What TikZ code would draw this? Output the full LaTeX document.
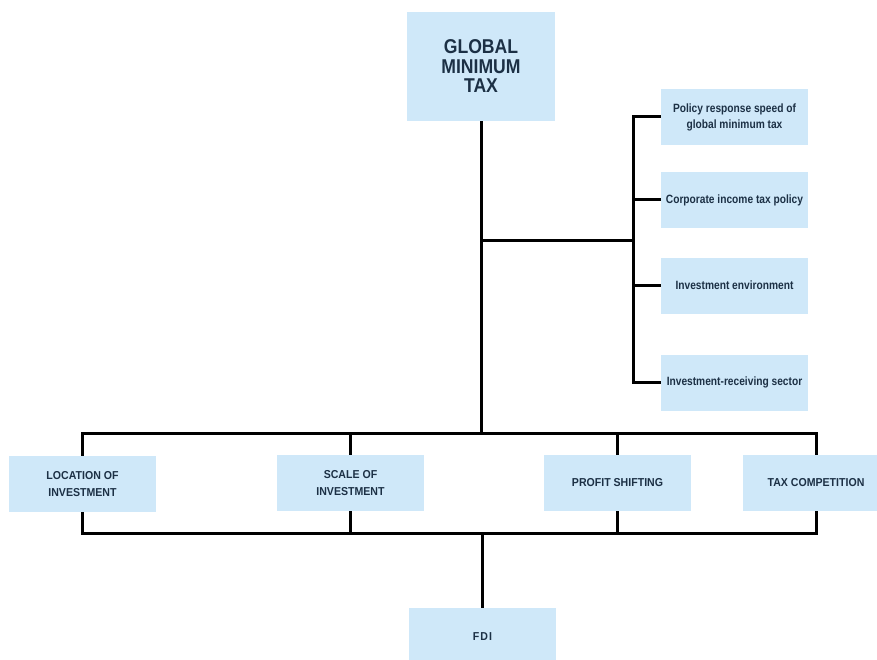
\documentclass[tikz,border=0pt]{standalone}
\usepackage{fontspec}
\setmainfont{Liberation Sans}
\newfontfamily\boxfont[FakeStretch=0.85]{Liberation Sans}
\newfontfamily\capsfont[FakeStretch=0.92]{Liberation Sans}
\newfontfamily\titlefont[FakeStretch=0.88]{Liberation Sans}
\definecolor{boxblue}{HTML}{CFE8F9}
\definecolor{ink}{HTML}{1C3045}
\begin{document}
\begin{tikzpicture}[x=1pt,y=-1pt,
  box/.style={fill=boxblue, inner sep=0pt, minimum width=147pt, minimum height=56pt,
    align=center, text=ink, font=\boxfont\bfseries\fontsize{12}{16}\selectfont},
  capsbox/.style={box, font=\capsfont\bfseries\fontsize{11.5}{17.5}\selectfont},
  conn/.style={line width=3pt, draw=black, line join=miter}]
\useasboundingbox (0,0) rectangle (877,660);
\fill[white] (0,0) rectangle (877,660);

\node[box, minimum width=148pt, minimum height=109pt,
      font=\titlefont\bfseries\fontsize{20}{19.5}\selectfont] (gmt) at (481,66.5) {GLOBAL\\MINIMUM\\TAX};

\node[box] (pol) at (734.5,117)   {Policy response speed of\\global minimum tax};
\node[box] (cit) at (734.5,200)   {Corporate income tax policy};
\node[box] (env) at (734.5,285.5) {Investment environment};
\node[box] (rec) at (734.5,382.5) {Investment-receiving sector};

\node[capsbox] (loc) at (82.5,484) {LOCATION OF\\INVESTMENT};
\node[capsbox] (sca) at (350.5,483) {SCALE OF\\INVESTMENT};
\node[capsbox] (pro) at (617.5,483) {PROFIT SHIFTING};
\node[capsbox] (tax) at (816,483) {TAX COMPETITION};

\node[capsbox, minimum height=58pt] (fdi) at (482.5,637) {F\kern1ptD\kern1ptI};

\coordinate (tb) at (0,433);
\coordinate (bb) at (0,533);
\coordinate (rv) at (633,0);
\coordinate (j) at (481,240);

\draw[conn] (gmt.south) -- (gmt.south |- tb);
\draw[conn] (j) -- (j -| rv);
\draw[conn] (pol.west) -- (pol.west -| rv) -- (rec.west -| rv) -- (rec.west);
\draw[conn] (cit.west -| rv) -- (cit.west);
\draw[conn] (env.west -| rv) -- (env.west);

\draw[conn] (loc.north) -- (loc.north |- tb) -- (tax.north |- tb) -- (tax.north);
\draw[conn] (sca.north |- tb) -- (sca.north);
\draw[conn] (pro.north |- tb) -- (pro.north);

\draw[conn] (loc.south) -- (loc.south |- bb) -- (tax.south |- bb) -- (tax.south);
\draw[conn] (sca.south |- bb) -- (sca.south);
\draw[conn] (pro.south |- bb) -- (pro.south);

\draw[conn] (fdi.north |- bb) -- (fdi.north);
\end{tikzpicture}
\end{document}
